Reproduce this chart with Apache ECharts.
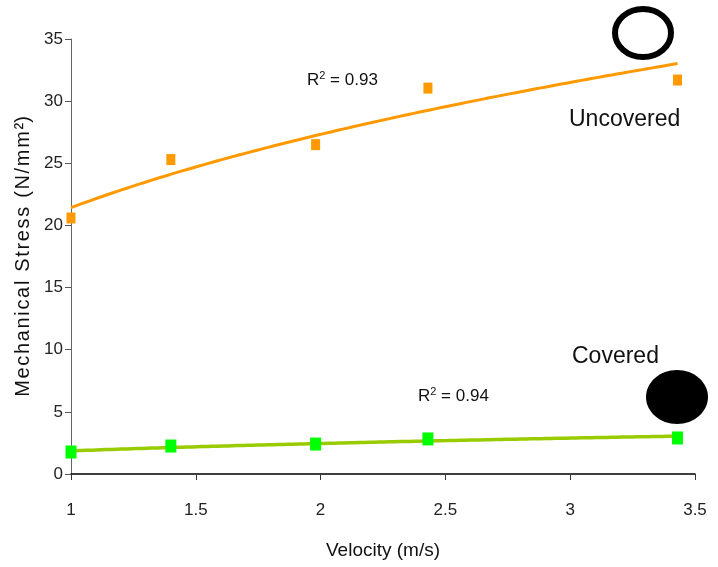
<!DOCTYPE html>
<html>
<head>
<meta charset="utf-8">
<script src="https://cdn.jsdelivr.net/npm/echarts@6/dist/echarts.min.js"></script>
<style>
  html, body { margin: 0; padding: 0; background: #fff; }
  #main { width: 718px; height: 567px; }
</style>
</head>
<body>
<div id="main"></div>
<script>
// velocity (m/s) of the measured points
const velocity = [1, 1.4, 1.98, 2.43, 3.43];
// mechanical stress, N/mm2
const uncovered = [20.6, 25.3, 26.5, 31.05, 31.7];
const covered = [1.77, 2.25, 2.41, 2.82, 2.9];
const xTicks = [1, 1.5, 2, 2.5, 3, 3.5];
const yTicks = [0, 5, 10, 15, 20, 25, 30, 35];

const FONT = '"Liberation Sans Narrow", "Liberation Sans", Arial, sans-serif';

// power trendline (y = a * x^b) fitted the same way the spreadsheet did
function powerFit(xs, ys) {
  const lx = xs.map(Math.log), ly = ys.map(Math.log);
  const n = xs.length;
  const mx = lx.reduce((s, v) => s + v, 0) / n;
  const my = ly.reduce((s, v) => s + v, 0) / n;
  let sxy = 0, sxx = 0;
  for (let i = 0; i < n; i++) {
    sxy += (lx[i] - mx) * (ly[i] - my);
    sxx += (lx[i] - mx) * (lx[i] - mx);
  }
  const b = sxy / sxx;
  const a = Math.exp(my - b * mx);
  const out = [];
  const x0 = xs[0], x1 = xs[n - 1];
  for (let k = 0; k <= 60; k++) {
    const x = x0 + (x1 - x0) * k / 60;
    out.push([x, a * Math.pow(x, b)]);
  }
  return out;
}

const pts = (ys) => velocity.map((v, i) => [v, ys[i]]);
// spread the letters of the y title a little, like the original
const spaced = (s) => s.split('').join('\u200A');

const chart = echarts.init(document.getElementById('main'));
chart.setOption({
  animation: false,
  backgroundColor: '#fff',
  grid: { left: 71, right: 23, top: 39, bottom: 93, outerBoundsMode: 'none' },
  xAxis: {
    type: 'value',
    min: xTicks[0], max: xTicks[xTicks.length - 1], interval: 0.5,
    name: 'Velocity (m/s)',
    nameLocation: 'middle',
    nameGap: 67,
    nameTextStyle: { fontFamily: FONT, fontSize: 19, color: '#111' },
    axisLine: { lineStyle: { color: '#000', width: 1.5 } },
    axisTick: { show: true, length: 6, lineStyle: { color: '#333' } },
    axisLabel: { margin: 28, fontFamily: FONT, fontSize: 17, color: '#222' },
    splitLine: { show: false }
  },
  yAxis: {
    type: 'value',
    min: yTicks[0], max: yTicks[yTicks.length - 1], interval: 5,
    name: spaced('Mechanical Stress (N/mm') + '\u200A\u00B2)',
    nameLocation: 'middle',
    nameGap: 29,
    nameTextStyle: { fontFamily: FONT, fontSize: 20, color: '#111' },
    axisLine: { show: true, lineStyle: { color: '#666', width: 1 } },
    axisTick: { show: true, length: 6, lineStyle: { color: '#555' } },
    axisLabel: { margin: 8, fontFamily: FONT, fontSize: 17, color: '#222' },
    splitLine: { show: false }
  },
  series: [
    {
      name: 'Uncovered fit', type: 'line', data: powerFit(velocity, uncovered),
      showSymbol: false, smooth: true, z: 2,
      lineStyle: { color: '#FF9900', width: 3 }
    },
    {
      name: 'Covered fit', type: 'line', data: powerFit(velocity, covered),
      showSymbol: false, smooth: true, z: 2,
      lineStyle: { color: '#99CC00', width: 3.5 }
    },
    {
      name: 'Uncovered', type: 'scatter', data: pts(uncovered),
      symbol: 'rect', symbolSize: [9, 11], z: 3,
      itemStyle: { color: '#FF9900', opacity: 1 }
    },
    {
      name: 'Covered', type: 'scatter', data: pts(covered),
      symbol: 'rect', symbolSize: [11, 13], z: 3,
      itemStyle: { color: '#00FF00', opacity: 1 }
    }
  ],
  graphic: [
    {
      type: 'text', left: 307, top: 70,
      style: {
        text: '{r|R}{s|2}{r| = 0.93}',
        rich: {
          r: { fontFamily: FONT, fontSize: 17, fill: '#111' },
          s: { fontFamily: FONT, fontSize: 11, fill: '#111', padding: [0, 0, 10, 0] }
        }
      }
    },
    {
      type: 'text', left: 418, top: 386,
      style: {
        text: '{r|R}{s|2}{r| = 0.94}',
        rich: {
          r: { fontFamily: FONT, fontSize: 17, fill: '#111' },
          s: { fontFamily: FONT, fontSize: 11, fill: '#111', padding: [0, 0, 10, 0] }
        }
      }
    },
    {
      type: 'text', left: 569, top: 108,
      style: { text: 'Uncovered', fontFamily: 'Liberation Sans, Arial, sans-serif', fontSize: 23, fill: '#111' }
    },
    {
      type: 'text', left: 572, top: 345,
      style: { text: 'Covered', fontFamily: 'Liberation Sans, Arial, sans-serif', fontSize: 23, fill: '#111' }
    },
    {
      type: 'ellipse',
      shape: { cx: 643, cy: 33, rx: 28, ry: 24 },
      style: { fill: 'none', stroke: '#000', lineWidth: 6 }
    },
    {
      type: 'ellipse',
      shape: { cx: 677, cy: 397, rx: 31, ry: 27 },
      style: { fill: '#000' }
    }
  ]
});
</script>
</body>
</html>
